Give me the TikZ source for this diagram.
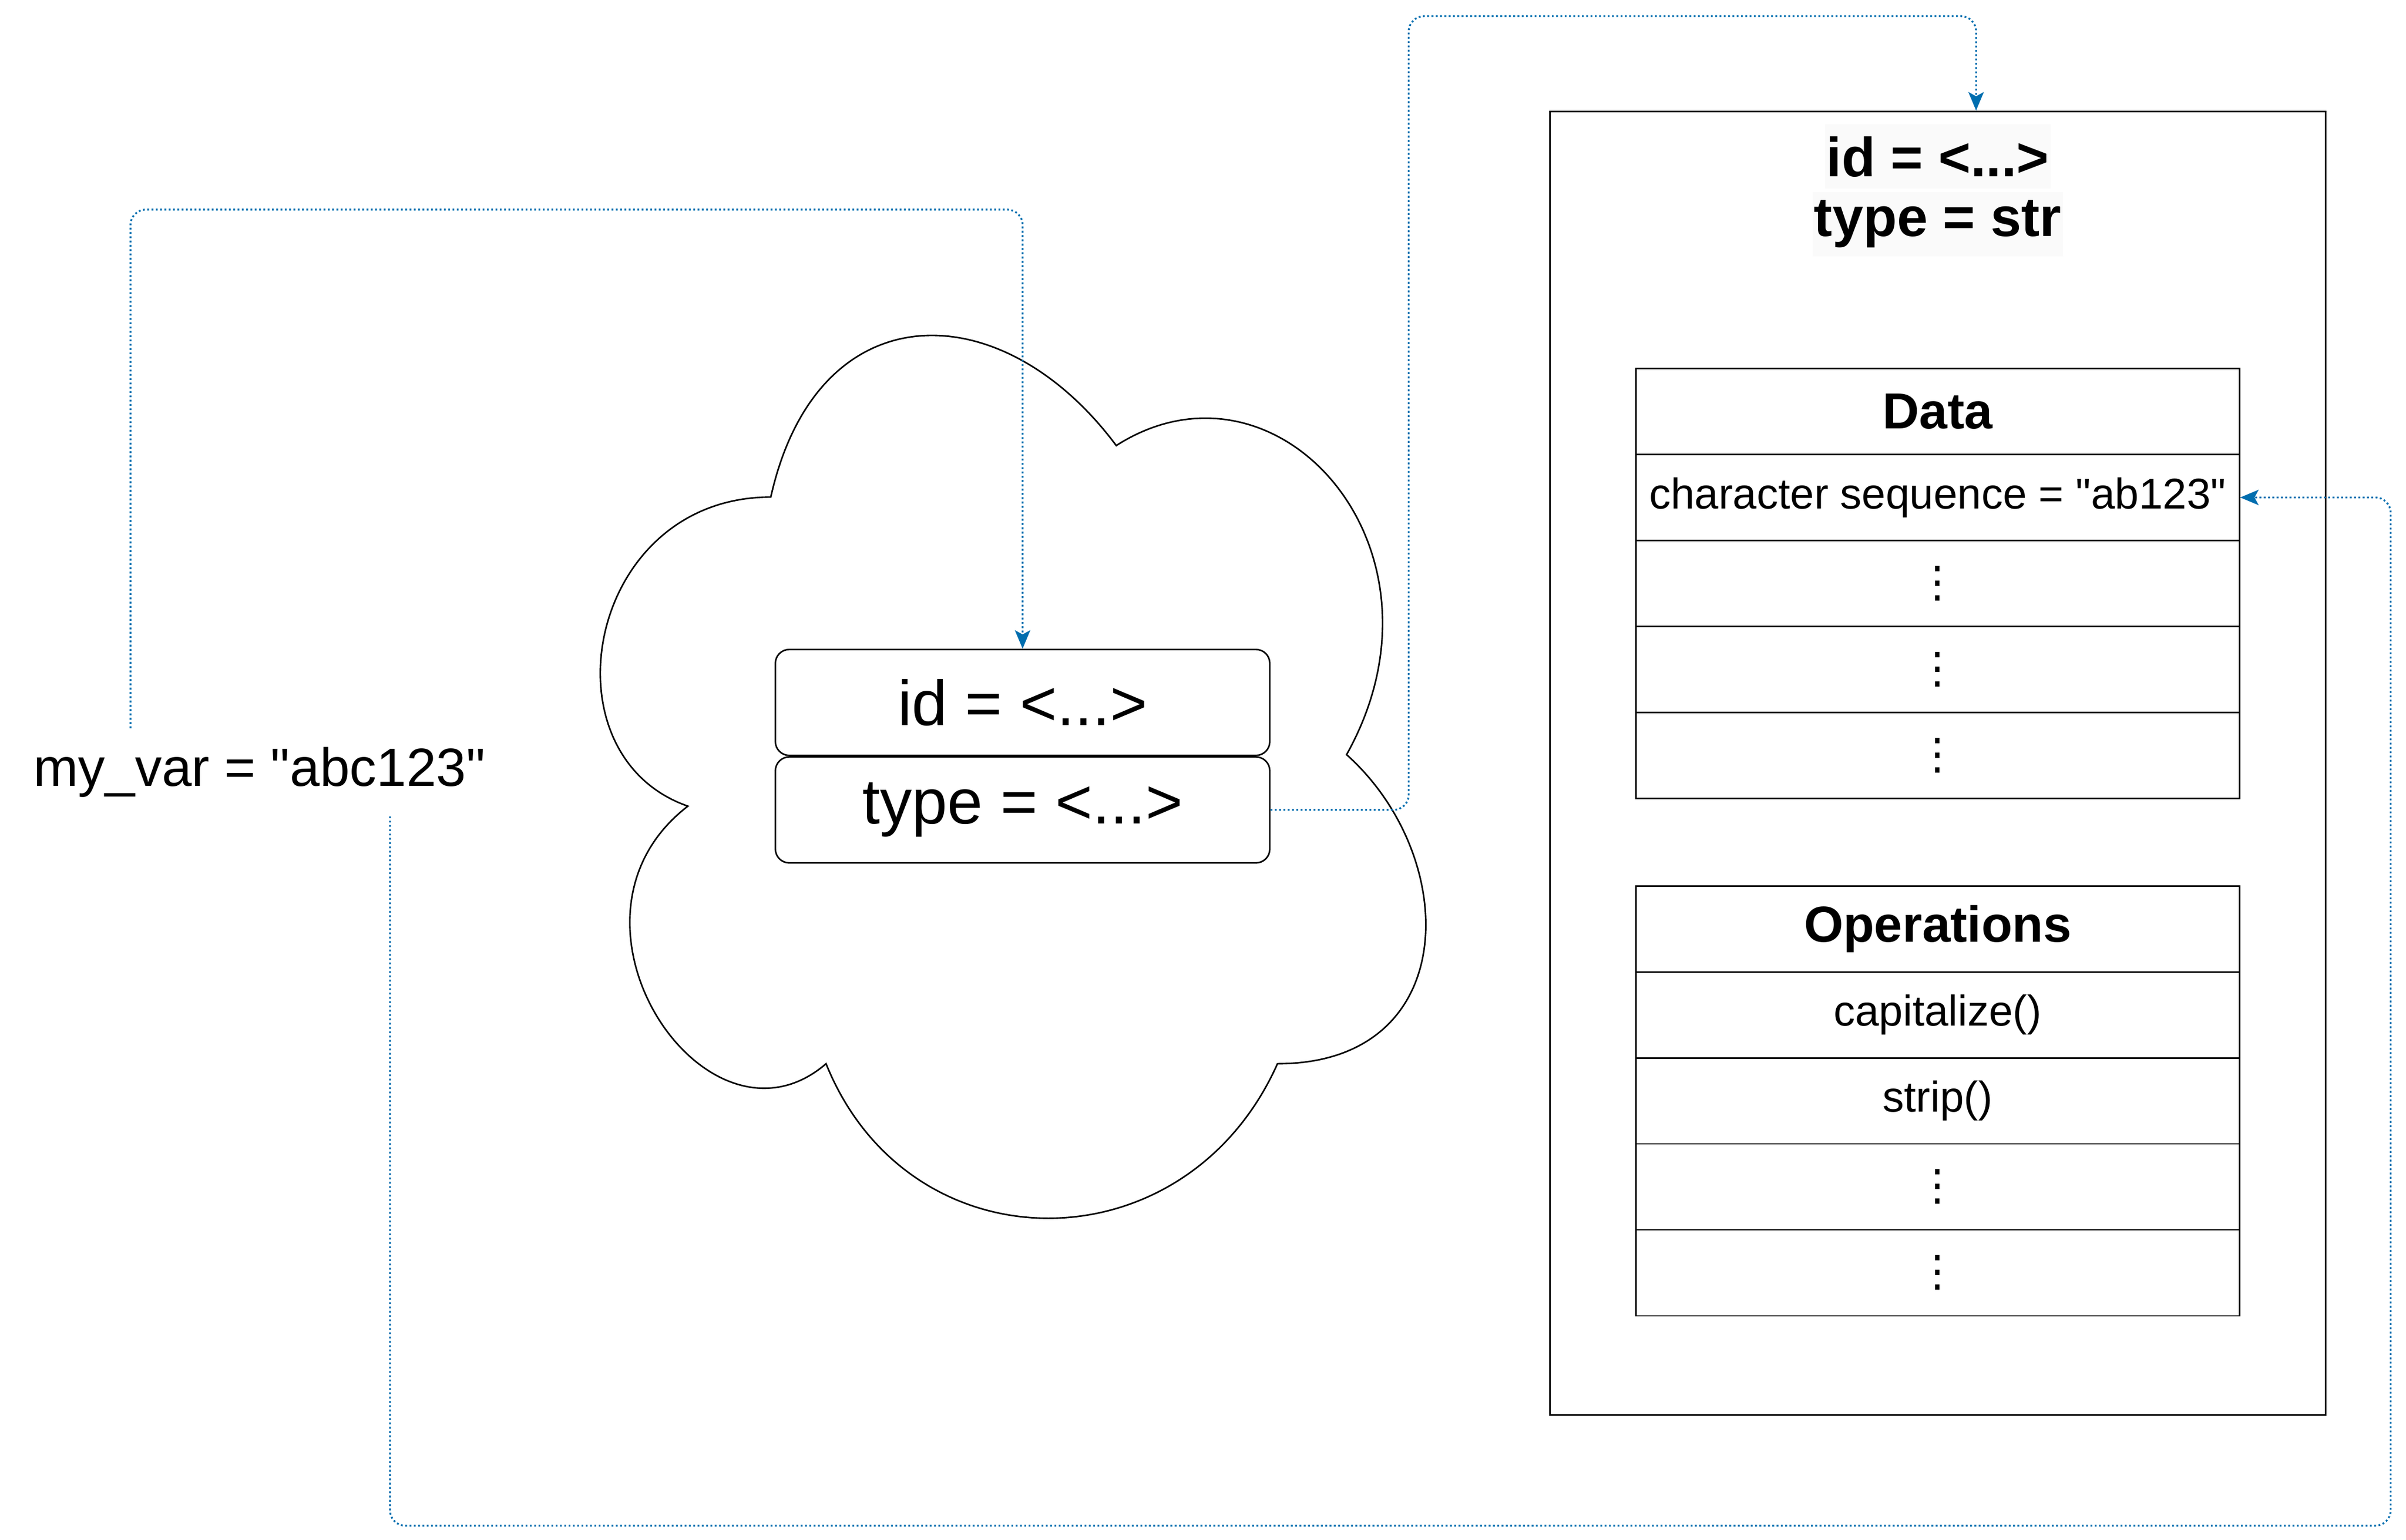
\documentclass[tikz,border=0pt]{standalone}
\usepackage{fontspec}
\setmainfont{Liberation Sans}
\newfontfamily\dotsfont{DejaVu Sans}
\usetikzlibrary{matrix,positioning,arrows.meta}
\definecolor{linkblue}{HTML}{006EAF}
\definecolor{labelbg}{HTML}{FAFAFA}
\tikzstyle{slot} = [draw, line width=1pt, rounded corners=9pt, minimum width=322pt, minimum height=69pt, font=\fontsize{41.5}{48}\selectfont]
\tikzstyle{objtitle} = [fill=labelbg, inner xsep=1pt, minimum height=42pt, font=\bfseries\fontsize{36}{42}\selectfont]
\tikzstyle{tbl} = [matrix of nodes, row sep=-1pt, nodes={draw, line width=1pt, minimum width=393pt, minimum height=56pt, inner sep=0pt, font=\fontsize{28}{34}\selectfont}]
\tikzstyle{tblhead} = [font=\bfseries\fontsize{33}{40}\selectfont]
\tikzstyle{link} = [draw=linkblue, line width=1.2pt, dash pattern=on 1.2pt off 1.6pt, rounded corners=10pt, -{Stealth[length=12pt,width=10pt,inset=2.7pt]}]
\newcommand{\vd}{{\dotsfont ⋮}}
\newcommand{\q}{\textquotedbl}

\begin{document}
\begin{tikzpicture}[x=1pt, y=-1pt]
            \useasboundingbox (0,0) rectangle (1567,1002.7);
            % the cloud
            \begin{scope}[shift={(352,156)}, x=600pt, y=-671pt]
                \draw[line width=1pt] (0.25,0.25) .. controls (0.05,0.25) and (0,0.5) .. (0.16,0.55)
                    .. controls (0,0.66) and (0.18,0.9) .. (0.31,0.8)
                    .. controls (0.4,1) and (0.7,1) .. (0.8,0.8)
                    .. controls (1,0.8) and (1,0.6) .. (0.875,0.5)
                    .. controls (1,0.3) and (0.8,0.1) .. (0.625,0.2)
                    .. controls (0.5,0.05) and (0.3,0.05) .. (0.25,0.25) -- cycle;
            \end{scope}
            \node[slot] (idslot) at (666,457.5) {id = <...>};
            \node[slot, below=0pt of idslot] (typeslot) {type = <...>};
            \node[minimum width=338pt, minimum height=57pt, font=\fontsize{35}{42}\selectfont] (var) at (169,503) {my\_var = \q abc123\q};
            % the object
            \node[draw, line width=1pt, minimum width=505pt, minimum height=849pt] (obj) at (1262,497) {};
            \node[objtitle] (objid) at (1262,102) {id = <...>};
            \node[objtitle] (objtype) at (1262,146) {type = str};
            \matrix (data) [tbl] at (1262,380) {
            |[tblhead]| Data \\
            character sequence = \q ab123\q \\
            \vd \\
            \vd \\
            \vd \\
            };
            \matrix (ops) [tbl] at (1262,717) {
            |[tblhead]| Operations \\
            capitalize() \\
            strip() \\
            \vd \\
            \vd \\
            };
            % references
            \draw[link] ([xshift=-84pt]var.north) |- ([yshift=286pt]idslot.north) -- (idslot.north);
            \draw[link] (typeslot.east) -- ++(90,0) |- ([xshift=25pt,yshift=61.5pt]obj.north) -- ([xshift=25pt]obj.north);
            \draw[link] ([xshift=85pt]var.south) -- ++(0,462) -| ([xshift=98pt]data-2-1.east) -- (data-2-1.east);
\end{tikzpicture}
\end{document}
